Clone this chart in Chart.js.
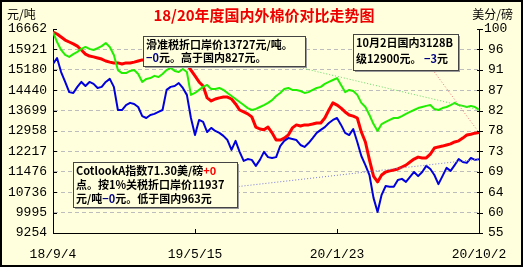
<!DOCTYPE html>
<html><head><meta charset="utf-8">
<script src="https://cdn.jsdelivr.net/npm/chart.js@4"></script>
<style>html,body{margin:0;padding:0;background:#ffffdd}canvas{display:block}</style>
</head><body>
<canvas id="c" width="523" height="267"></canvas>
<script>
// ---- data ----
const xTickLabels = ['18/9/4', '19/5/15', '20/1/23', '20/10/2'];
const xTickIndex = [0, 35, 70, 105];
const leftTickLabels = ['9254','9995','10736','11476','12217','12958','13699','14440','15180','15921','16662'];
const rightTickLabels = ['55','60','64','69','73','78','82','87','91','96','100'];

// 国内3128B (元/吨)
const domestic = [16550,16480,16370,16260,16190,16120,16040,15900,15750,15680,
15650,15610,15570,15500,15460,15430,15430,15390,15430,15430,
15460,15500,15540,15540,15570,15540,15540,15570,15540,15500,
15540,15500,15460,15390,15170,14960,14740,14590,14160,14050,
14120,14160,14190,14190,14120,13940,13720,13650,13580,13470,
13100,13030,13000,13100,12890,12630,12630,12700,12810,13070,
13180,13140,13180,13180,13210,13250,13250,13430,13720,13980,
13900,13790,13650,13540,13500,13430,12920,12560,11910,11320,
11110,11360,11470,11510,11540,11580,11650,11720,11830,11940,
12010,11980,11980,12120,12340,12380,12410,12450,12490,12560,
12600,12700,12810,12840,12880,12900];
// 滑准税折口岸价 (元/吨)
const slidingTariff = [16550,16190,15900,15720,15650,15750,15830,15940,16010,15940,
15900,15970,16040,16150,16010,15720,15170,15060,15060,15140,
15170,15030,14740,14850,14880,14960,14920,15030,15170,15250,
15140,15100,15210,15100,14270,14340,14450,14560,14630,14480,
14480,14520,14450,14340,14230,14120,14010,13900,13790,13720,
13760,13830,13900,13980,14080,14230,14340,14480,14520,14450,
14450,14410,14340,14370,14450,14520,14560,14670,14740,14810,
14880,14630,14370,14450,14410,14270,13980,13830,13540,13210,
12960,13210,13290,13360,13430,13430,13500,13580,13650,13720,
13790,13830,13870,13900,13760,13720,13790,13830,13900,13980,
13900,13870,13830,13870,13830,13727];
// 1%关税折口岸价 (元/吨)
const onePctTariff = [15390,15610,15100,14740,14370,14340,14560,14740,14590,14740,
14670,14520,14560,14740,14850,14560,13720,13720,13900,13980,
13940,13830,13500,13430,13540,13580,13650,13720,14450,14560,
14590,14700,14520,14270,13430,12810,13360,13290,12920,13070,
12960,12890,12780,12630,12270,12600,12200,11870,11940,11910,
11690,11910,12200,12010,11980,12010,12410,12600,12700,12670,
12630,12450,12380,12520,12700,12890,13000,13100,13250,13360,
13430,13180,12890,12810,13030,12560,12050,11720,11360,10530,
10020,10640,10960,10930,10930,11180,11220,11110,11290,11470,
11320,11470,11690,11580,11360,11030,11320,11620,11510,11720,
11940,11830,11800,11980,11910,11937];
// leader lines from the note boxes to the latest values: [index, value]
const greenLeaderStart = [58, 15360];
const redLeaderStart = [94, 15100];
const blueLeaderStart = [45, 10930];

const BG = '#ffffdd';
const pts = arr => arr.map((v, i) => ({x: i, y: v}));
const last = arr => ({x: arr.length - 1, y: arr[arr.length - 1]});

const notes = [
  {x:143, y:36, w:162, h:30, lh:13, lines:[
    [['滑准税折口岸价13727元/吨。','#000']],
    [['−0','#000080'],['元。高于国内827元。','#000']]]},
  {x:353, y:34, w:105, h:36, lh:16, lines:[
    [['10月2日国内3128B','#000']],
    [['级12900元。 ','#000'],['−3','#000080'],['元','#000']]]},
  {x:73, y:162, w:164, h:45, lh:14, lines:[
    [['CotlookA指数71.30美/磅','#000'],['+0','#ff0000']],
    [['点。按1%关税折口岸价11937','#000']],
    [['元/吨','#000'],['−0','#000080'],['元。低于国内963元','#000']]]}
];

const decor = {
  id: 'decor',
  beforeDraw(chart) {
    const c = chart.ctx;
    c.save();
    c.fillStyle = BG; c.fillRect(0, 0, chart.width, chart.height);
    c.restore();
  },
  afterDraw(chart) {
    const c = chart.ctx, a = chart.chartArea, s = chart.scales;
    c.save();
    c.strokeStyle = '#000'; c.lineWidth = 1;
    s.y.ticks.forEach(t => {
      const y = Math.round(s.y.getPixelForValue(t.value)) + 0.5;
      c.beginPath(); c.moveTo(a.left, y); c.lineTo(a.left + 4, y); c.stroke();
    });
    s.y1.ticks.forEach(t => {
      const y = Math.round(s.y1.getPixelForValue(t.value)) + 0.5;
      c.beginPath(); c.moveTo(a.right - 2, y); c.lineTo(a.right + 4, y); c.stroke();
    });
    s.x.ticks.forEach(t => {
      const x = Math.round(s.x.getPixelForValue(t.value)) + 0.5;
      c.beginPath(); c.moveTo(x, a.bottom); c.lineTo(x, a.bottom - 4); c.stroke();
    });
    // notes
    notes.forEach(n => {
      c.fillStyle = '#9a9a9a'; c.fillRect(n.x + 2, n.y + 2, n.w, n.h);
      c.fillStyle = BG; c.fillRect(n.x, n.y, n.w, n.h);
      c.strokeStyle = '#444'; c.lineWidth = 1;
      c.strokeRect(n.x + 0.5, n.y + 0.5, n.w, n.h);
      c.font = 'bold 11px "Noto Sans CJK SC"';
      c.textBaseline = 'middle';
      n.lines.forEach((ln, k) => {
        let x = n.x + 3;
        const y = n.y + 9 + k * n.lh;
        ln.forEach(([txt, col]) => {
          c.fillStyle = col; c.fillText(txt, x, y); x += c.measureText(txt).width;
        });
      });
    });
    // title + units
    c.textBaseline = 'middle';
    c.fillStyle = '#ee0000'; c.font = 'bold 15px "Noto Sans CJK SC"'; c.textAlign = 'center';
    c.fillText('18/20年度国内外棉价对比走势图', 264, 15);
    c.fillStyle = '#000'; c.font = '12px "Noto Sans CJK SC"';
    c.textAlign = 'left'; c.fillText('元/吨', 7, 14);
    c.textAlign = 'right'; c.fillText('美分/磅', 513, 14);
    // frame
    c.strokeStyle = '#000'; c.lineWidth = 2;
    c.strokeRect(1, 1, chart.width - 2, chart.height - 2);
    c.restore();
  }
};

const tickFont = {family: '"Liberation Mono", monospace', size: 13};

new Chart(document.getElementById('c'), {
  type: 'line',
  data: {
    datasets: [
      {data: [{x: greenLeaderStart[0], y: greenLeaderStart[1]}, last(slidingTariff)], borderColor: '#66dd66', borderWidth: 1, borderDash: [1, 2], pointRadius: 0},
      {data: [{x: redLeaderStart[0], y: redLeaderStart[1]}, last(domestic)], borderColor: '#ee7777', borderWidth: 1, borderDash: [1, 2], pointRadius: 0},
      {data: [{x: blueLeaderStart[0], y: blueLeaderStart[1]}, last(onePctTariff)], borderColor: '#7777dd', borderWidth: 1, borderDash: [1, 2], pointRadius: 0},
      {label: '滑准税折口岸价', data: pts(slidingTariff), borderColor: '#22ee00', borderWidth: 2, pointRadius: 0},
      {label: '1%关税折口岸价', data: pts(onePctTariff), borderColor: '#0000dd', borderWidth: 2, pointRadius: 0},
      {label: '国内3128B', data: pts(domestic), borderColor: '#ff0000', borderWidth: 3, pointRadius: 0}
    ]
  },
  options: {
    responsive: false, animation: false,
    layout: {padding: {top: 29, left: 0, right: 0, bottom: 0}},
    plugins: {legend: {display: false}, tooltip: {enabled: false}},
    elements: {line: {tension: 0, borderJoinStyle: 'round'}},
    scales: {
      x: {
        type: 'linear', min: 0, max: 105,
        afterBuildTicks: s => { s.ticks = xTickIndex.map(v => ({value: v})); },
        ticks: {font: tickFont, color: '#000', padding: 14, maxRotation: 0,
          callback: (v, i) => xTickLabels[i]},
        grid: {display: false, drawTicks: false},
        border: {display: true, color: '#000', width: 1},
        afterFit: s => { s.height = 34; }
      },
      y: {
        position: 'left', min: 9254, max: 16662,
        afterBuildTicks: s => { s.ticks = leftTickLabels.map(l => ({value: +l})); },
        ticks: {font: tickFont, color: '#000', padding: 6, callback: (v, i) => leftTickLabels[i]},
        grid: {drawTicks: false, color: ctx => (ctx.index === 0 || ctx.index === 10) ? 'rgba(0,0,0,0)' : '#bdbdbd', lineWidth: 1},
        border: {display: true, color: '#000', width: 1, dash: [4, 3]},
        afterFit: s => { s.width = 53; }
      },
      y1: {
        position: 'right', min: 55, max: 100,
        afterBuildTicks: s => { s.ticks = rightTickLabels.map((l, k) => ({value: 55 + k * 4.5})); },
        ticks: {font: tickFont, color: '#000', padding: 5, crossAlign: 'center', callback: (v, i) => rightTickLabels[i]},
        grid: {display: false, drawTicks: false},
        border: {display: true, color: '#000', width: 1},
        afterFit: s => { s.width = 44; }
      }
    }
  },
  plugins: [decor]
});
</script>
</body></html>
